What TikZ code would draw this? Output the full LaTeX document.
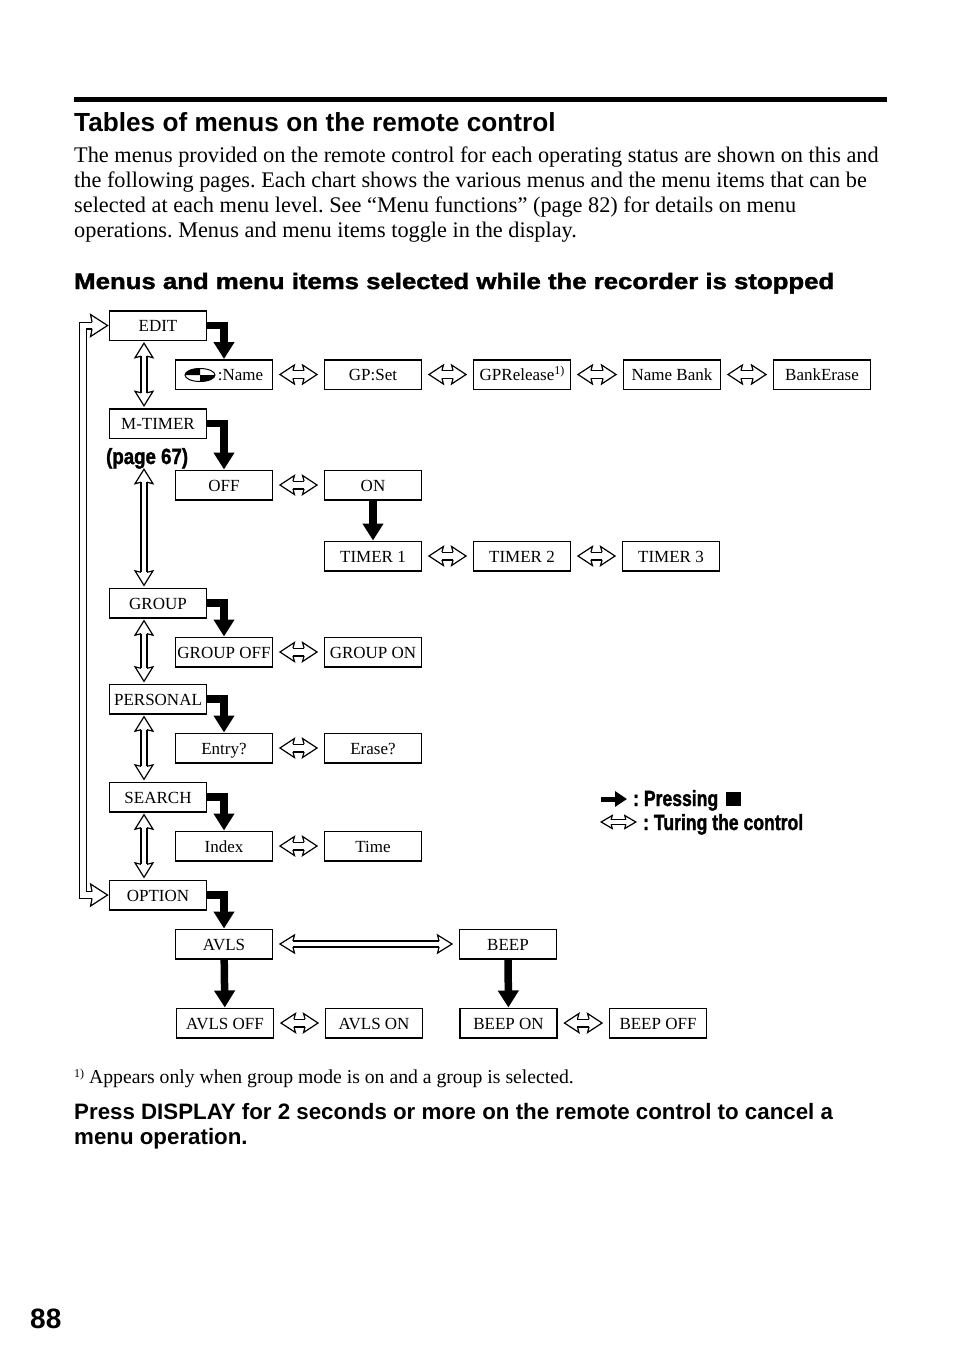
\documentclass[tikz,border=0pt]{standalone}
\usepackage{fontspec}
\setmainfont{Liberation Serif}
\setsansfont{Liberation Sans}
\newfontfamily\blackfont[BoldFeatures={FakeBold=1.6}]{Liberation Sans}
\frenchspacing
\usetikzlibrary{arrows.meta}
% hollow tips, open towards the shaft: name, length, half width, shoulder x, shoulder y
\newcommand{\newturntip}[5]{%
\pgfdeclarearrow{
name=#1,
setup code={\pgfarrowssettipend{1.2pt}\pgfarrowssetlineend{-#4}\pgfarrowssetbackend{-#2}\pgfarrowssetvisualbackend{-#4}},
drawing code={\pgfsetlinewidth{1.2pt}\pgfsetmiterjoin
\pgfpathmoveto{\pgfqpoint{-#4}{#5}}\pgfpathlineto{\pgfqpoint{-#2}{#3}}\pgfpathlineto{\pgfqpoint{0pt}{0pt}}\pgfpathlineto{\pgfqpoint{-#2}{-#3}}\pgfpathlineto{\pgfqpoint{-#4}{-#5}}\pgfusepathqstroke}
}}
\newturntip{TurnTip}{14.5pt}{9.5pt}{13pt}{3.9pt}
\newturntip{ThinTip}{14.5pt}{9pt}{13pt}{3pt}
\newturntip{LoopTip}{17pt}{11pt}{15.5pt}{3.4pt}
\newturntip{LegendTip}{11pt}{6.5pt}{10pt}{2.2pt}
\tikzset{
menubox/.style={draw,line width=1.5pt,minimum width=97pt,minimum height=29.5pt,inner sep=0pt,text height=12.5pt,text depth=0.5pt,font=\fontsize{17}{20}\selectfont},
press/.style={line width=7.5pt,-{Triangle[width=20pt,length=17pt]}},
turn/.style={double,double distance=6.6pt,line width=1.2pt,{TurnTip}-{TurnTip},shorten <=5.5pt,shorten >=5.5pt},
turnthin/.style={double,double distance=4.8pt,line width=1.2pt,{ThinTip}-{ThinTip}},
turnloop/.style={double,double distance=5.6pt,line width=1.2pt,{LoopTip}-{LoopTip}},
turnlegend/.style={double,double distance=3.2pt,line width=1.2pt,{LegendTip}-{LegendTip}},
body/.style={anchor=base west,inner sep=0pt,font=\fontsize{22.3}{25}\selectfont},
head/.style={anchor=base west,inner sep=0pt,font=\sffamily\bfseries\fontsize{22.3}{25}\selectfont},
wide/.style={anchor=base west,inner sep=0pt,xscale=1.155,font=\blackfont\bfseries\fontsize{22.3}{25}\selectfont},
narrow/.style={anchor=base west,inner sep=0pt,xscale=0.8,font=\blackfont\bfseries\fontsize{22}{25}\selectfont}
}
\begin{document}
\begin{tikzpicture}[x=1pt,y=-1pt]
\useasboundingbox (0,0) rectangle (954,1357);
\fill (74,97) rectangle (887,102);
\node[head,font=\sffamily\bfseries\fontsize{26.2}{28}\selectfont] (title) at (74,131) {Tables of menus on the remote control};
\node[body] (line1) at (74,162.5) {The menus provided on the remote control for each operating status are shown on this and};
\node[body] (line2) at (74,187.5) {the following pages. Each chart shows the various menus and the menu items that can be};
\node[body] (line3) at (74,212.5) {selected at each menu level. See “Menu functions” (page 82) for details on menu};
\node[body] (line4) at (74,237.5) {operations. Menus and menu items toggle in the display.};
\node[wide] (subtitle) at (74,289) {Menus and menu items selected while the recorder is stopped};
% main menu
\node[menubox] (edit) at (158,325.5) {EDIT};
\node[menubox] (mtimer) at (158,423.5) {M-TIMER};
\node[menubox] (group) at (158,603) {GROUP};
\node[menubox] (personal) at (158,699) {PERSONAL};
\node[menubox] (search) at (158,797) {SEARCH};
\node[menubox] (option) at (158,895) {OPTION};
% edit row
\node[menubox] (name) at (224,374.5) {\hspace*{33pt}:Name};
\node[menubox] (gpset) at (373,374.5) {GP:Set};
\node[menubox] (gprelease) at (522,374.5) {GPRelease\raisebox{6pt}{\fontsize{12}{12}\selectfont 1)}};
\node[menubox] (namebank) at (672,374.5) {Name Bank};
\node[menubox] (bankerase) at (822,374.5) {BankErase};
\fill[white,draw=black,line width=1pt] (200,375) ellipse (15 and 6.5);
\fill (200,375) -- (185,375) arc (180:270:15 and 6.5) -- cycle;
\fill (200,375) -- (215,375) arc (0:90:15 and 6.5) -- cycle;
% timer rows
\node[menubox] (off) at (224,485) {OFF};
\node[menubox] (on) at (373,485) {ON};
\node[menubox] (timera) at (373,556) {TIMER 1};
\node[menubox] (timerb) at (522,556) {TIMER 2};
\node[menubox] (timerc) at (671,556) {TIMER 3};
% group, personal, search rows
\node[menubox] (groupoff) at (224,652) {GROUP OFF};
\node[menubox] (groupon) at (373,652) {GROUP ON};
\node[menubox] (entry) at (224,748) {Entry?};
\node[menubox] (erase) at (373,748) {Erase?};
\node[menubox] (index) at (224,846) {Index};
\node[menubox] (time) at (373,846) {Time};
% option rows
\node[menubox] (avls) at (224,944) {AVLS};
\node[menubox] (beep) at (508,944) {BEEP};
\node[menubox] (avlsoff) at (225,1023) {AVLS OFF};
\node[menubox] (avlson) at (374,1023) {AVLS ON};
\node[menubox] (beepon) at (508.5,1023) {BEEP ON};
\node[menubox] (beepoff) at (658,1023) {BEEP OFF};
\node[narrow,xscale=1.06] (page) at (106,464) {(page 67)};
% pressing
\draw[press] (edit.east) -| (name.north);
\draw[press] (mtimer.east) -| (off.north);
\draw[press] (on) -- (timera);
\draw[press] (group.east) -| (groupoff.north);
\draw[press] (personal.east) -| (entry.north);
\draw[press] (search.east) -| (index.north);
\draw[press] (option.east) -| (avls.north);
\draw[press] (avls) -- (avlsoff);
\draw[press] (beep) -- (beepon);
% turning, main menu
\foreach \a/\b in {edit/mtimer,group/personal,personal/search,search/option} {
\draw[turnthin,shorten <=1pt,shorten >=1pt] ([xshift=-14pt]\a.south) -- ([xshift=-14pt]\b.north);
}
\coordinate (pagefoot) at (144,468);
\draw[turnthin,shorten >=1pt] (pagefoot) -- ([xshift=-14pt]group.north);
% turning, sub menus
\foreach \a/\b in {name/gpset,gpset/gprelease,gprelease/namebank,namebank/bankerase,off/on,timera/timerb,timerb/timerc,groupoff/groupon,entry/erase,index/time,avlsoff/avlson,beepon/beepoff} {
\draw[turn] (\a.east) -- (\b.west);
}
\draw[turnthin,shorten <=5.5pt,shorten >=5.5pt] (avls.east) -- (beep.west);
% back to the top
\draw[turnloop] (option.west) -- (83,895) -- (83,325.5) -- (edit.west);
% legend
\coordinate (pa) at (601,799);
\coordinate (pb) at (627,799);
\coordinate (ta) at (600,822);
\coordinate (tb) at (637,822);
\draw[line width=5pt,-{Triangle[width=15pt,length=12pt]}] (pa) -- (pb);
\draw[turnlegend] (ta) -- (tb);
\node[narrow] (pressing) at (633,806) {: Pressing};
\fill (726,792) rectangle (741,806);
\node[narrow] (turing) at (643,830) {: Turing the control};
% foot
\node[body,font=\fontsize{19.7}{22}\selectfont] (foot) at (74,1083) {\raisebox{6pt}{\fontsize{12}{12}\selectfont 1)} Appears only when group mode is on and a group is selected.};
\node[head] (cancela) at (74,1119) {Press DISPLAY for 2 seconds or more on the remote control to cancel a};
\node[head] (cancelb) at (74,1144) {menu operation.};
\node[head,font=\sffamily\bfseries\fontsize{28}{30}\selectfont] (pagenum) at (30,1328) {88};
\end{tikzpicture}
\end{document}
